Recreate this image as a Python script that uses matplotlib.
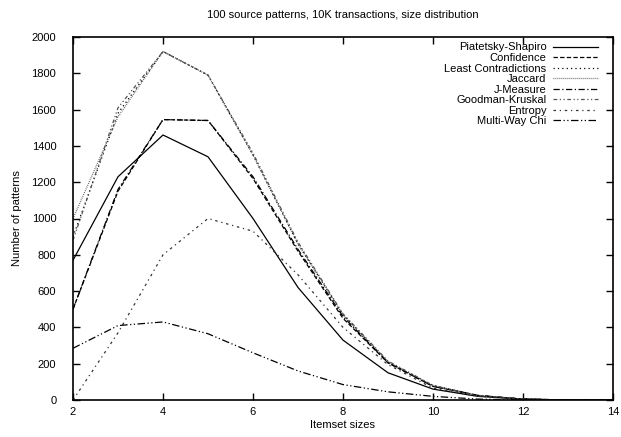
import matplotlib
matplotlib.use('Agg')
import matplotlib.pyplot as plt
import numpy as np

plt.rcParams['font.family'] = ['Liberation Sans', 'DejaVu Sans']
plt.rcParams['font.size'] = 8

# itemset sizes
sizes = np.arange(2, 15)

piatetsky = [770, 1230, 1460, 1340, 1000, 620, 330, 150, 60, 20, 5, 0, 0]
confidence = [500, 1150, 1545, 1540, 1220, 820, 450, 205, 75, 25, 5, 0, 0]
least_contr = [900, 1580, 1920, 1790, 1350, 860, 470, 210, 80, 25, 5, 0, 0]
jaccard = [1000, 1560, 1920, 1790, 1350, 860, 470, 210, 80, 25, 5, 0, 0]
j_measure = [500, 1160, 1545, 1540, 1230, 830, 460, 205, 75, 25, 5, 0, 0]
goodman = [880, 1610, 1920, 1790, 1360, 870, 475, 215, 80, 25, 5, 0, 0]
entropy = [0, 370, 800, 1000, 930, 690, 400, 195, 65, 20, 5, 0, 0]
multiway = [285, 410, 430, 365, 260, 160, 85, 45, 20, 5, 0, 0, 0]

labels = ['Piatetsky-Shapiro', 'Confidence', 'Least Contradictions', 'Jaccard',
          'J-Measure', 'Goodman-Kruskal', 'Entropy', 'Multi-Way Chi']
series = [piatetsky, confidence, least_contr, jaccard,
          j_measure, goodman, entropy, multiway]
styles = ['-', (0, (3.5, 1.8)), (0, (1, 2.5)), (0, (0.6, 1)),
          (0, (5, 2, 1, 2)), (0, (3, 2, 1, 2, 1, 2)), (0, (2, 3, 1, 3)),
          (0, (6, 2, 1, 2, 1, 2))]
colors = ['black', 'black', 'black', '#444444', 'black', '#555555', '#333333', 'black']

fig = plt.figure(figsize=(6.21, 4.37), dpi=100)
ax = fig.add_axes([73 / 621, 37 / 437, 540 / 621, 363 / 437])

for y, lab, ls, c in zip(series, labels, styles, colors):
    ax.plot(sizes, y, linestyle=ls, color=c, lw=0.9, label=lab)

ax.set_xlim(2, 14)
ax.set_ylim(0, 2000)
ax.set_xticks(np.arange(2, 15, 2))
ax.set_yticks(np.arange(0, 2001, 200))
ax.tick_params(direction='in', top=True, right=True, length=5, width=1)
ax.tick_params(axis='y', pad=12)
ax.tick_params(axis='x', pad=5)
for s in ax.spines.values():
    s.set_linewidth(1.2)

ax.set_title('100 source patterns, 10K transactions, size distribution', fontsize=8, pad=14)
ax.set_xlabel('Itemset sizes', labelpad=2)
ax.set_ylabel('Number of patterns', labelpad=7)

leg = ax.legend(loc='upper right', frameon=False, markerfirst=False,
                handlelength=4, labelspacing=0.05, borderaxespad=0,
                handletextpad=0.6, bbox_to_anchor=(1 - 11 / 540, 1 - 1 / 363))

fig.savefig('out.png', dpi=100)
